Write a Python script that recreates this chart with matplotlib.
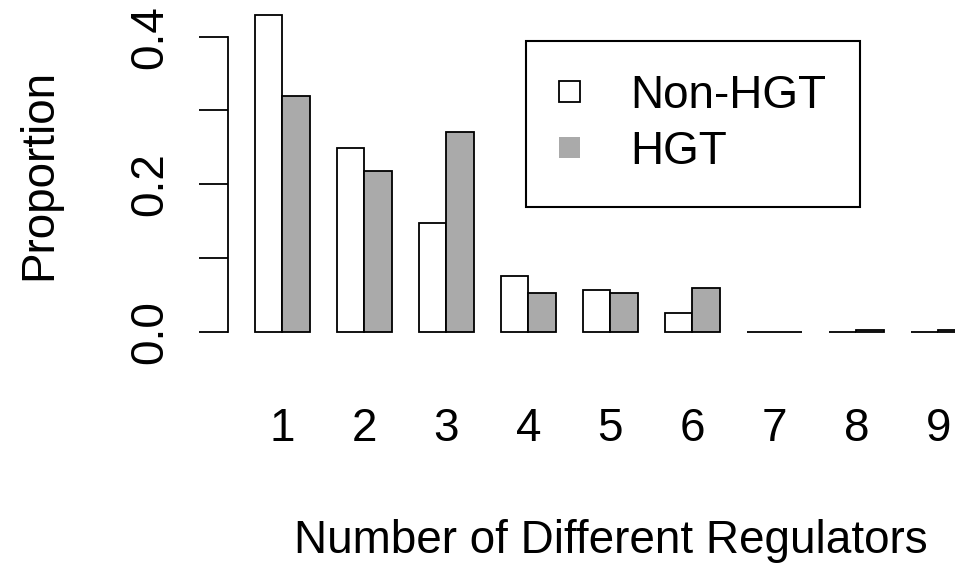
import matplotlib
matplotlib.use('Agg')
import matplotlib.pyplot as plt
from matplotlib.patches import Patch

plt.rcParams['font.family'] = ['Liberation Sans', 'DejaVu Sans']

# proportions
regulators = ['1', '2', '3', '4', '5', '6', '7', '8', '9']
non_hgt = [0.430, 0.249, 0.147, 0.075, 0.056, 0.026, 0.0, 0.0, 0.0]
hgt = [0.319, 0.218, 0.271, 0.053, 0.053, 0.059, 0.0, 0.002, 0.002]
yticks = [0.0, 0.1, 0.2, 0.3, 0.4]
ylabels = ['0.0', '', '0.2', '', '0.4']

W, H = 955, 565
fig = plt.figure(figsize=(W / 100, H / 100), dpi=100)
# axes placed in pixel terms: left edge at 227.7px, bottom at 340px
ax = fig.add_axes([227.7 / W, 1 - 340 / H, 1 - 227.7 / W, 340 / H])

fs = 33
gray = '#aaaaaa'

# R style barplot(beside=TRUE): each group is space 1 + two bars of width 1
pos1 = [1 + 3 * i for i in range(len(regulators))]
pos2 = [2 + 3 * i for i in range(len(regulators))]
ax.bar(pos1, non_hgt, width=1, align='edge', color='white', edgecolor='black', linewidth=1.3)
ax.bar(pos2, hgt, width=1, align='edge', color=gray, edgecolor='black', linewidth=1.3)

ax.set_xlim(0, (W - 227.7) / 27.33)
ax.set_ylim(-(340 - 331.7) / 737.5, 331.7 / 737.5)

for s in ['top', 'right', 'bottom']:
    ax.spines[s].set_visible(False)
ax.spines['left'].set_bounds(0, 0.4)
ax.spines['left'].set_linewidth(1.3)

ax.set_yticks(yticks)
ax.set_yticklabels(ylabels, rotation=90, va='center', fontsize=fs)
ax.tick_params(axis='y', length=20.7, width=1.3, pad=19)

ax.set_xticks([p + 1 for p in pos1])
ax.set_xticklabels(regulators, fontsize=fs)
ax.tick_params(axis='x', length=0, pad=48)

ax.set_xlabel('Number of Different Regulators', fontsize=fs)
ax.xaxis.set_label_coords(0.527, -0.5265)
ax.set_ylabel('Proportion', fontsize=fs)
ax.yaxis.set_label_coords((61 - 227.7) / (W - 227.7), 0.488)

handles = [Patch(facecolor='white', edgecolor='black', linewidth=1.3),
           Patch(facecolor=gray, edgecolor='none')]
leg = ax.legend(handles, ['Non-HGT', 'HGT'], loc='upper left',
                bbox_to_anchor=(526 / W, 1 - 40.7 / H), bbox_transform=fig.transFigure,
                fontsize=fs, frameon=True, fancybox=False, borderaxespad=0,
                borderpad=0.72, handlelength=0.46, handleheight=0.33,
                handletextpad=1.1, labelspacing=0.26)
leg.get_frame().set_edgecolor('black')
leg.get_frame().set_linewidth(1.5)
leg.get_frame().set_alpha(1)

fig.savefig('out.png', dpi=100)
